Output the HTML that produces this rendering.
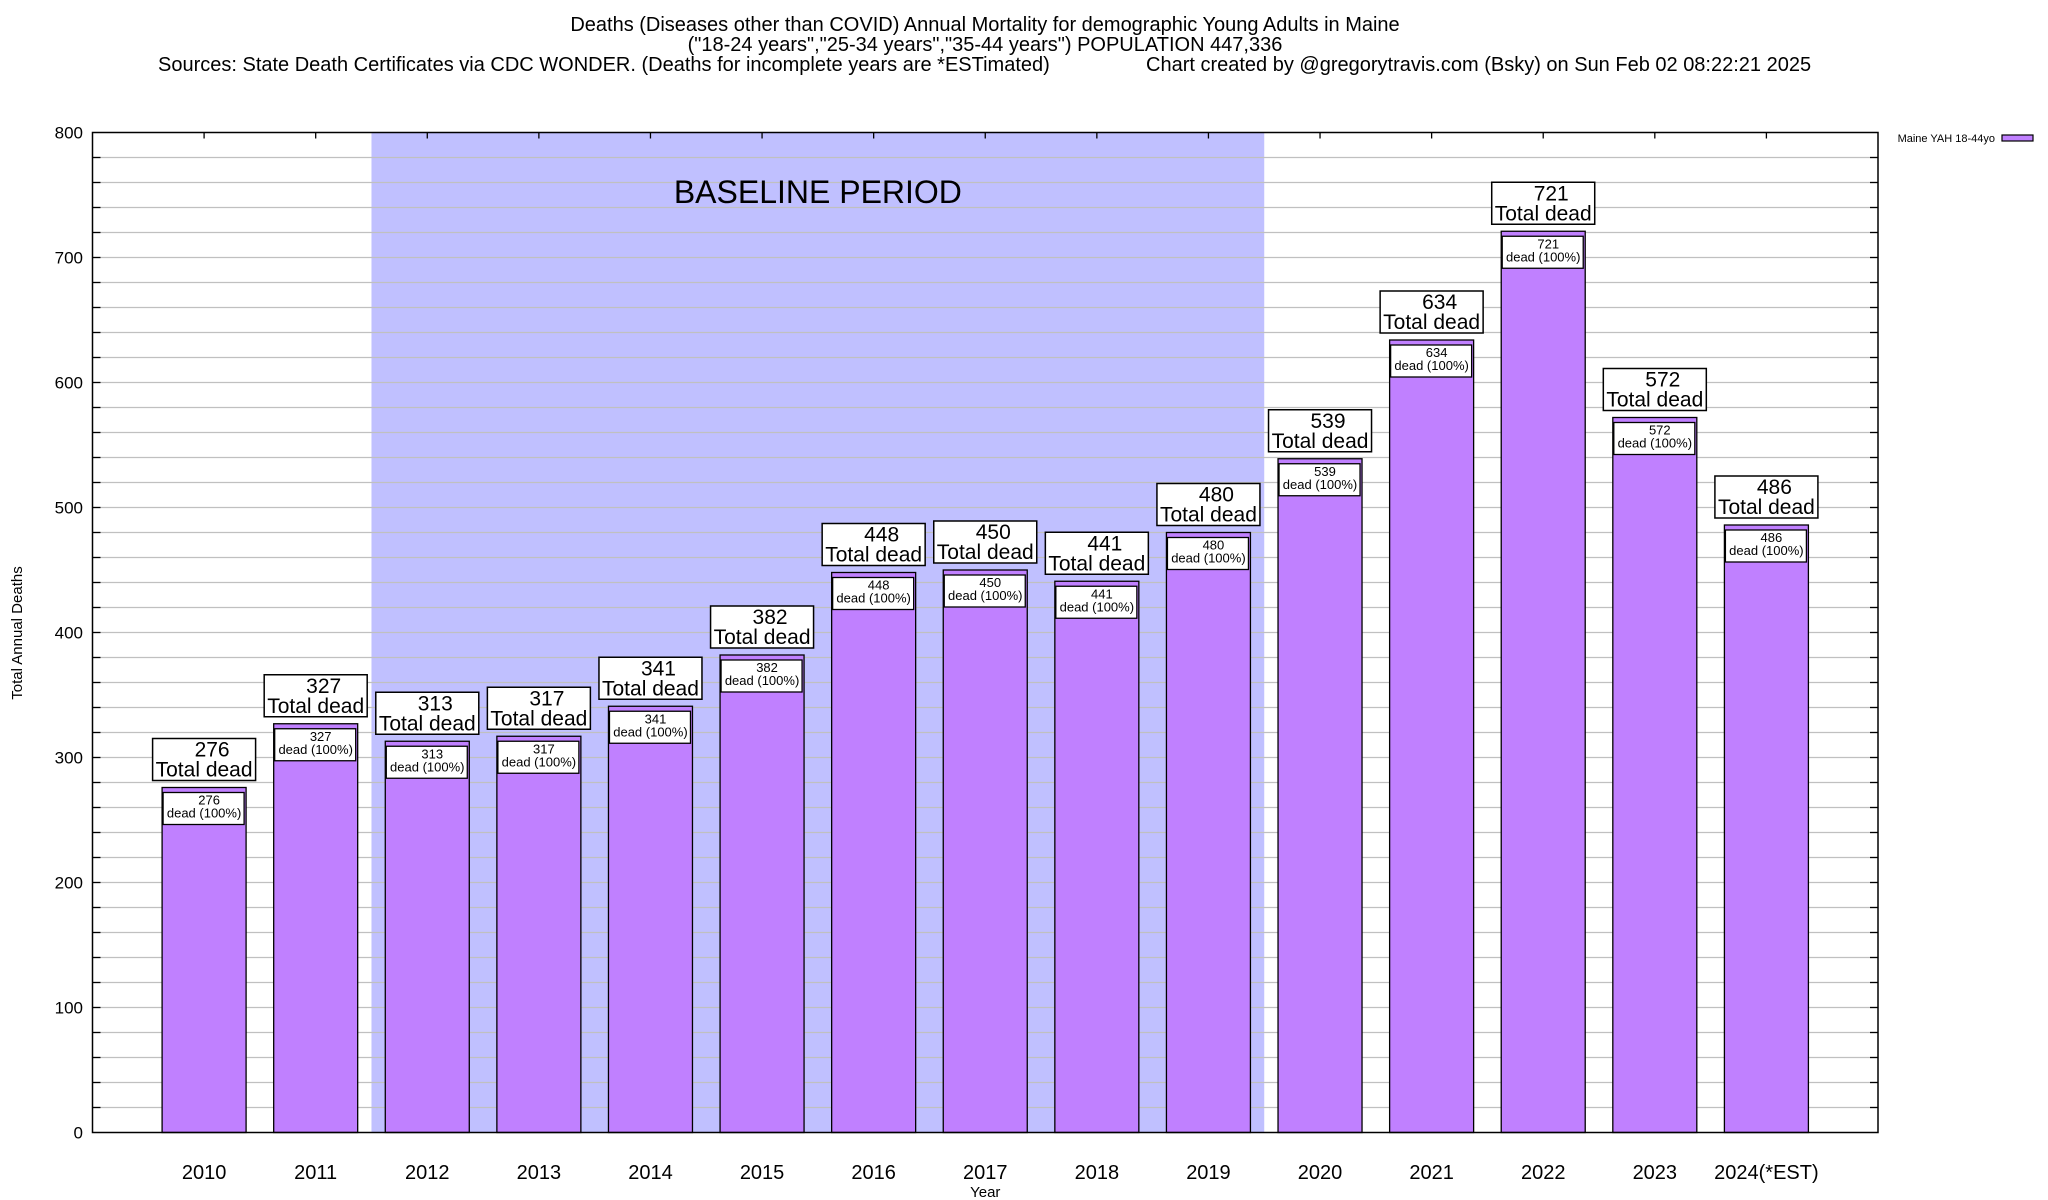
<!DOCTYPE html>
<html><head><meta charset="utf-8"><style>
html,body{margin:0;padding:0;background:#fff}
svg{display:block;font-family:"Liberation Sans",Arial,sans-serif}
</style></head><body>
<svg id="chart" width="2048" height="1200" viewBox="0 0 2048 1200" xmlns="http://www.w3.org/2000/svg">
<g font-size="20" fill="#000">
<text x="985" y="31" text-anchor="middle">Deaths (Diseases other than COVID) Annual Mortality for demographic Young Adults in Maine</text>
<text x="985" y="51" text-anchor="middle">("18-24 years","25-34 years","35-44 years") POPULATION 447,336</text>
<text x="158" y="71">Sources: State Death Certificates via CDC WONDER. (Deaths for incomplete years are *ESTimated)</text>
<text x="1146" y="71">Chart created by @gregorytravis.com (Bsky) on Sun Feb 02 08:22:21 2025</text>
</g>
<g id="plot"></g>
</svg>
<script>
const categories=["2010","2011","2012","2013","2014","2015","2016","2017","2018","2019","2020","2021","2022","2023","2024(*EST)"];
const deaths=[276,327,313,317,341,382,448,450,441,480,539,634,721,572,486];
const yTicks=[0,100,200,300,400,500,600,700,800];
const baselineRange=[2012,2019];

const L=92.5,R=1878,T=132.5,B=1132.5;
const ns="http://www.w3.org/2000/svg";
const unit=(R-L)/16;
const xc=i=>L+unit*(i+1);
const y=v=>B-(v/800)*(B-T);
const g=document.getElementById('plot');
function el(tag,attrs,parent){const e=document.createElementNS(ns,tag);for(const k in attrs)e.setAttribute(k,attrs[k]);(parent||g).appendChild(e);return e;}

const bi0=categories.indexOf(String(baselineRange[0])),bi1=categories.indexOf(String(baselineRange[1]));
const shade=el('rect',{x:xc(bi0)-unit/2,y:T,width:unit*(bi1-bi0+1),height:B-T,fill:'#c0c0ff'});



for(let v=20;v<800;v+=20){
  const ln=el('line',{x1:L,x2:R,y1:y(v),y2:y(v),stroke:'#c0c0c0','stroke-width':1.2});
  
  
  el('line',{x1:L,x2:L+8,y1:y(v),y2:y(v),stroke:'#000','stroke-width':1.3});
  el('line',{x1:R-8,x2:R,y1:y(v),y2:y(v),stroke:'#000','stroke-width':1.3});
}
const bt=el('text',{x:(xc(bi0)+xc(bi1))/2,y:203,'text-anchor':'middle','font-size':32});
bt.textContent='BASELINE PERIOD';



yTicks.forEach(v=>{
  const t=el('text',{x:83,y:y(v)+6,'text-anchor':'end','font-size':17});
  t.textContent=v;
  
  
});

deaths.forEach((d,i)=>{
  const cx=xc(i),top=y(d);
  const b=el('rect',{x:cx-42,y:top,width:84,height:B-top,fill:'#c080ff',stroke:'#000','stroke-width':1.3});
  
  
  const ib=el('rect',{x:cx-41,y:top+5,width:81,height:32,fill:'#fff',stroke:'#000','stroke-width':1.3});
  
  
  const t1=el('text',{x:cx+5,y:top+17,'text-anchor':'middle','font-size':13});t1.textContent=d;
  
  
  const t2=el('text',{x:cx,y:top+30,'text-anchor':'middle','font-size':13});t2.textContent='dead (100%)';
  
  
  const bx=top-7-42;
  const tb=el('rect',{x:cx-51.5,y:bx,width:103,height:42,fill:'#fff',stroke:'#000','stroke-width':1.5});
  
  
  const t3=el('text',{x:cx+8,y:bx+18,'text-anchor':'middle','font-size':21});t3.textContent=d;
  
  
  const t4=el('text',{x:cx,y:bx+38,'text-anchor':'middle','font-size':21});t4.textContent='Total dead';
  
  
  const xl=el('text',{x:cx,y:1179,'text-anchor':'middle','font-size':20});xl.textContent=categories[i];
  
  
  el('line',{x1:cx,x2:cx,y1:T,y2:T+6,stroke:'#000','stroke-width':1.3});
});

const fr=el('rect',{x:L,y:T,width:R-L,height:B-T,fill:'none',stroke:'#000','stroke-width':1.5});



const xt=el('text',{x:xc(7),y:1197,'text-anchor':'middle','font-size':15});xt.textContent='Year';


const yt=el('text',{x:22,y:633,'text-anchor':'middle','font-size':15,transform:'rotate(-90 22 633)'});yt.textContent='Total Annual Deaths';



const lg=el('g',{});


const lt=el('text',{x:1995,y:142,'text-anchor':'end','font-size':11},lg);lt.textContent='Maine YAH 18-44yo';
el('rect',{x:2002,y:135,width:31,height:6,fill:'#c080ff',stroke:'#000','stroke-width':1.2},lg);
</script>
</body></html>
